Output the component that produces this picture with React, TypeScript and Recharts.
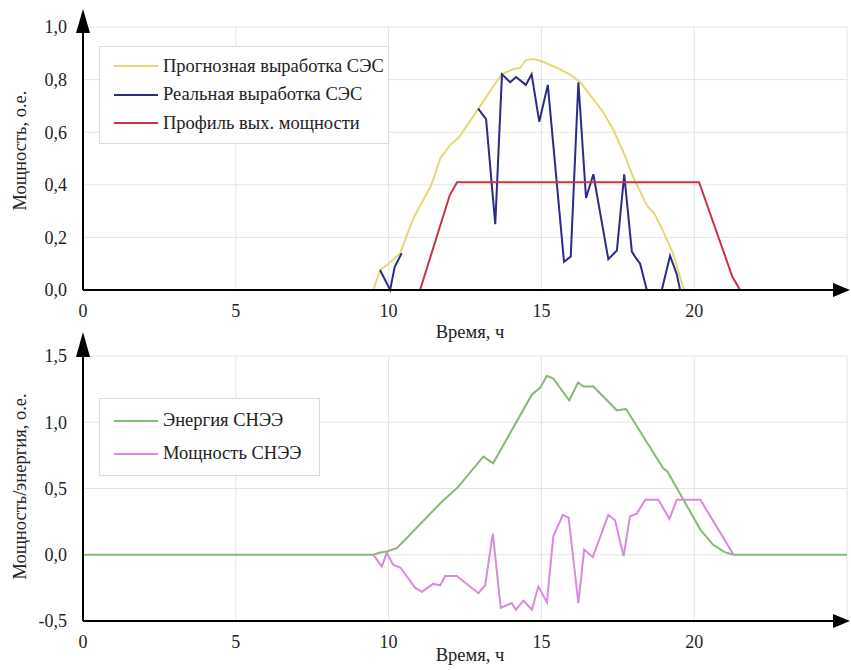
import React from 'react'
import { LineChart, Line, XAxis, YAxis, CartesianGrid, Legend, ReferenceDot } from 'recharts'

// top chart: forecast / real PV output, output profile
const forecastT = [9.5, 9.72, 10.0, 10.38, 10.8, 11.4, 11.69, 12.0, 12.3, 12.65, 13.0, 13.4, 13.7, 14.08, 14.3, 14.5, 14.75, 15.0, 15.5, 16.0, 16.27, 16.6, 17.0, 17.35, 17.7, 18.0, 18.46, 18.7, 19.0, 19.3, 19.64, 19.7]
const forecastV = [0, 0.076, 0.1, 0.14, 0.27, 0.4, 0.5, 0.55, 0.58, 0.64, 0.7, 0.77, 0.82, 0.84, 0.845, 0.875, 0.878, 0.87, 0.845, 0.815, 0.79, 0.74, 0.68, 0.61, 0.52, 0.43, 0.32, 0.29, 0.22, 0.14, 0.01, 0]

const realT = [9.72, 10.05, 10.2, 10.43, 11.5, 12.93, 13.19, 13.49, 13.71, 13.98, 14.17, 14.49, 14.68, 14.93, 15.21, 15.74, 15.96, 16.21, 16.46, 16.7, 17.19, 17.47, 17.71, 17.96, 18.1, 18.23, 18.45, 18.7, 18.94, 19.21, 19.43, 19.54]
const realV = [0.076, 0, 0.088, 0.14, null, 0.69, 0.65, 0.25, 0.82, 0.79, 0.81, 0.78, 0.82, 0.64, 0.78, 0.107, 0.127, 0.79, 0.35, 0.44, 0.117, 0.15, 0.44, 0.146, 0.12, 0.1, 0, null, 0, 0.13, 0.06, 0]

const profileT = [11.03, 12.0, 12.24, 20.16, 21.25, 21.5]
const profileV = [0, 0.36, 0.41, 0.41, 0.05, 0]

// bottom chart: storage energy and power
const energyT = [0, 9.5, 9.72, 9.94, 10.27, 11.03, 11.74, 12.27, 13.1, 13.42, 14.69, 14.96, 15.18, 15.39, 15.91, 16.2, 16.37, 16.7, 17.47, 17.77, 18.99, 19.12, 20.2, 20.62, 21.0, 21.3, 25]
const energyV = [0, 0, 0.017, 0.025, 0.05, 0.23, 0.4, 0.51, 0.74, 0.69, 1.21, 1.26, 1.35, 1.33, 1.165, 1.3, 1.27, 1.27, 1.09, 1.1, 0.65, 0.63, 0.19, 0.075, 0.02, 0, 0]

const powerT = [9.5, 9.78, 9.94, 10.15, 10.31, 10.4, 10.87, 11.09, 11.46, 11.69, 11.85, 12.23, 12.94, 13.16, 13.41, 13.67, 14.03, 14.17, 14.41, 14.69, 14.9, 15.18, 15.39, 15.7, 15.89, 16.21, 16.4, 16.68, 17.19, 17.41, 17.69, 17.9, 18.12, 18.4, 18.83, 19.19, 19.43, 20.2, 21.29]
const powerV = [0, -0.09, 0.015, -0.076, -0.09, -0.1, -0.25, -0.28, -0.22, -0.23, -0.16, -0.16, -0.29, -0.23, 0.16, -0.4, -0.365, -0.415, -0.345, -0.415, -0.24, -0.36, 0.14, 0.3, 0.28, -0.365, 0.04, -0.018, 0.3, 0.26, -0.01, 0.29, 0.31, 0.415, 0.415, 0.27, 0.415, 0.415, 0]

const xTicks = [0, 5, 10, 15, 20]
const topTicks = [0, 0.2, 0.4, 0.6, 0.8, 1.0]
const bottomTicks = [-0.5, 0, 0.5, 1.0, 1.5]

const toRows = (t: number[], v: (number | null)[]) => t.map((x, i) => ({ t: x, v: v[i] }))

const FONT = 'Liberation Serif, serif'
const fmt = (v: number) => v.toFixed(1).replace('.', ',')

const topSeries = [
  { name: 'Прогнозная выработка СЭС', color: '#e6d873', data: toRows(forecastT, forecastV) },
  { name: 'Реальная выработка СЭС', color: '#2b2b8a', data: toRows(realT, realV) },
  { name: 'Профиль вых. мощности', color: '#cc3340', data: toRows(profileT, profileV) },
]
const bottomSeries = [
  { name: 'Энергия СНЭЭ', color: '#86b977', data: toRows(energyT, energyV) },
  { name: 'Мощность СНЭЭ', color: '#d68bdc', data: toRows(powerT, powerV) },
]

const tickStyle = { fontFamily: FONT, fontSize: 18, fill: '#222' }

const LegendBox = ({ items, rowH, w, h }: { items: { name: string; color: string }[]; rowH: number; w: number; h: number }) => (
  <div style={{ width: w, height: h, boxSizing: 'border-box', border: '1px solid #dcdcdc', background: '#fff', paddingTop: 5 }}>
    {items.map((s) => (
      <div key={s.name} style={{ height: rowH, display: 'flex', alignItems: 'center', fontFamily: FONT, fontSize: 18.5, color: '#222', whiteSpace: 'nowrap' }}>
        <svg width={63} height={10}>
          <line x1={14} x2={58} y1={5} y2={5} stroke={s.color} strokeWidth={2} />
        </svg>
        <span>{s.name}</span>
      </div>
    ))}
  </div>
)

const yArrow = (up: number, down: number) => (p: any) => (
  <path d={`M${p.cx},${p.cy - up} L${p.cx - 7},${p.cy + down} L${p.cx + 7},${p.cy + down} Z`} fill="#000" />
)
const xArrow = (p: any) => (
  <path d={`M${p.cx + 3},${p.cy} L${p.cx - 14},${p.cy - 7} L${p.cx - 14},${p.cy + 7} Z`} fill="#000" />
)

const xLabel = (off: number) => (p: any) => {
  const vb = p.viewBox
  return (
    <text x={vb.x + vb.width / 2 + 5} y={vb.y + vb.height - off} textAnchor="middle" fontFamily={FONT} fontSize={18.5} fill="#222">
      Время, ч
    </text>
  )
}
const yLabel = (text: string, shift: number) => (p: any) => {
  const vb = p.viewBox
  const cx = 26
  const cy = vb.y + vb.height / 2 - shift
  return (
    <text x={cx} y={cy} transform={`rotate(-90, ${cx}, ${cy})`} textAnchor="middle" fontFamily={FONT} fontSize={18.5} fill="#222">
      {text}
    </text>
  )
}

export default function App() {
  return (
    <div style={{ position: 'absolute', left: 0, top: 0, width: 851, height: 670, background: '#fff' }}>
      <div style={{ position: 'absolute', left: 0, top: 0 }}>
        <LineChart width={851} height={345} margin={{ top: 27, right: 4, bottom: 0, left: 0 }}>
          <CartesianGrid stroke="#e4e4e4" strokeWidth={1} />
          <XAxis dataKey="t" type="number" domain={[0, 25]} ticks={xTicks} allowDuplicatedCategory={false}
            stroke="#000" strokeWidth={2} tickLine={false} tick={tickStyle} tickMargin={8} height={55} label={{ content: xLabel(7) }} />
          <YAxis type="number" domain={[0, 1]} ticks={topTicks} tickFormatter={fmt} stroke="#000" strokeWidth={2}
            tickLine={false} tick={tickStyle} tickMargin={10} width={83} label={{ content: yLabel('Мощность, о.е.', 8) }} />
          {topSeries.map((s) => (
            <Line key={s.name} data={s.data} dataKey="v" name={s.name} stroke={s.color} strokeWidth={2} dot={false}
              type="linear" isAnimationActive={false} connectNulls={false} />
          ))}
          <ReferenceDot x={0} y={1} ifOverflow="visible" shape={yArrow(18, 6)} />
          <ReferenceDot x={25} y={0} ifOverflow="visible" shape={xArrow} />
          <Legend layout="horizontal" align="center" verticalAlign="middle"
            wrapperStyle={{ left: 99, top: 46, width: 290, height: 98 }}
            content={() => <LegendBox items={topSeries} rowH={28.5} w={290} h={98} />} />
        </LineChart>
      </div>
      <div style={{ position: 'absolute', left: 0, top: 330 }}>
        <LineChart width={851} height={340} margin={{ top: 26, right: 4, bottom: 0, left: 0 }}>
          <CartesianGrid stroke="#e4e4e4" strokeWidth={1} />
          <XAxis dataKey="t" type="number" domain={[0, 25]} ticks={xTicks} allowDuplicatedCategory={false}
            stroke="#000" strokeWidth={2} tickLine={false} tick={tickStyle} tickMargin={8} height={49} label={{ content: xLabel(9) }} />
          <YAxis type="number" domain={[-0.5, 1.5]} ticks={bottomTicks} tickFormatter={fmt} stroke="#000" strokeWidth={2}
            tickLine={false} tick={tickStyle} tickMargin={10} width={83} label={{ content: yLabel('Мощность/энергия, о.е.', 2) }} />
          {bottomSeries.map((s) => (
            <Line key={s.name} data={s.data} dataKey="v" name={s.name} stroke={s.color} strokeWidth={2} dot={false}
              type="linear" isAnimationActive={false} />
          ))}
          <ReferenceDot x={0} y={1.5} ifOverflow="visible" shape={yArrow(24, 1)} />
          <ReferenceDot x={25} y={-0.5} ifOverflow="visible" shape={xArrow} />
          <Legend layout="horizontal" align="center" verticalAlign="middle"
            wrapperStyle={{ left: 99, top: 68, width: 221, height: 78 }}
            content={() => <LegendBox items={bottomSeries} rowH={33} w={221} h={78} />} />
        </LineChart>
      </div>
    </div>
  )
}
